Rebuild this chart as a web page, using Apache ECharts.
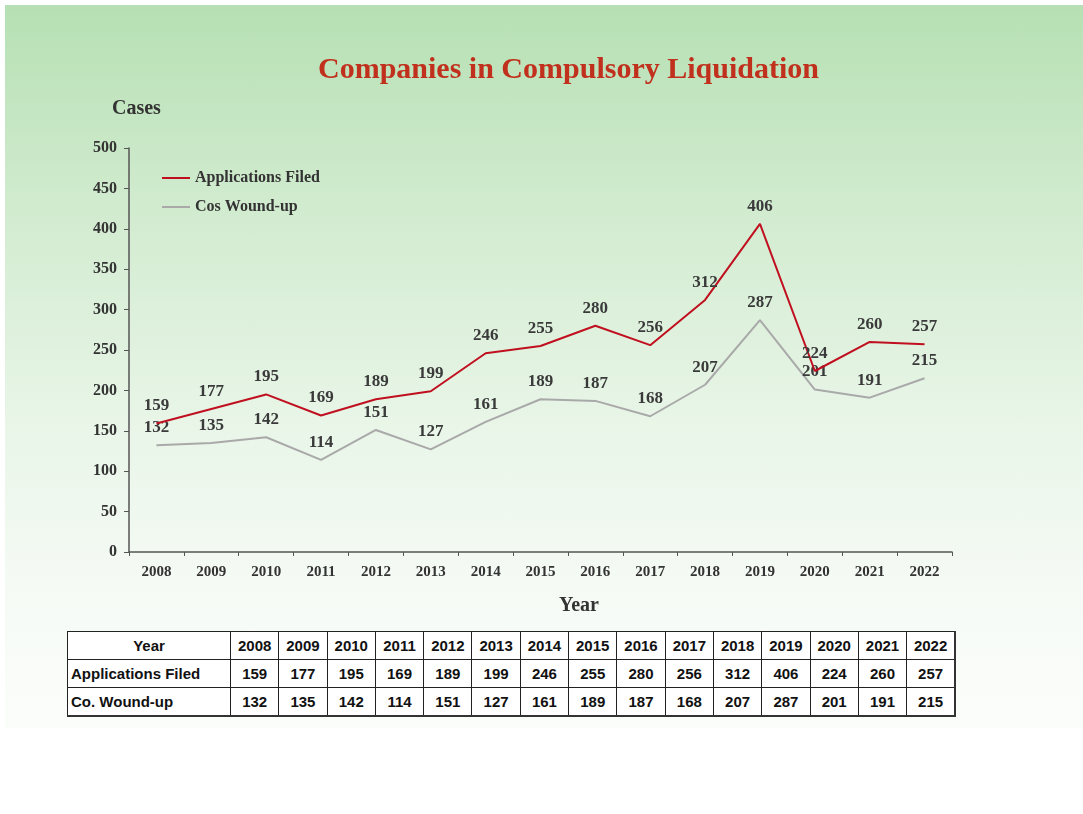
<!DOCTYPE html>
<html>
<head>
<meta charset="utf-8">
<script src="https://cdn.jsdelivr.net/npm/echarts@6/dist/echarts.min.js"></script>
<style>
  html, body { margin: 0; padding: 0; background: #ffffff; width: 1083px; height: 814px; overflow: hidden; }
  #bg { position: absolute; left: 5px; top: 5px; width: 1078px; height: 723px;
        background: linear-gradient(to bottom, #b6e0b3 0%, #d3ecd1 30%, #eaf6e9 60%, #f7fbf7 85%, #fbfdfb 100%); }
  #chart { position: absolute; left: 0; top: 0; width: 1083px; height: 814px; }
  #tbl { position: absolute; left: 67px; top: 631px; width: 889px; table-layout: fixed; border-collapse: collapse;
         font-family: "Liberation Sans", Arial, sans-serif; font-size: 15px; font-weight: bold; color: #111; background: #fff;
         border-right: 2px solid #333; border-bottom: 2px solid #333; }
  #tbl td { border: 1px solid #222; height: 27px; padding: 0; text-align: center; }
  #tbl td.h { width: 162px; text-align: left; padding-left: 3px; }
  #tbl tr:first-child td.h { text-align: center; padding-left: 0; }
</style>
</head>
<body>
<div id="bg"></div>
<div id="chart"></div>
<table id="tbl"></table>
<script>
const years = ['2008','2009','2010','2011','2012','2013','2014','2015','2016','2017','2018','2019','2020','2021','2022'];
const applicationsFiled = [159,177,195,169,189,199,246,255,280,256,312,406,224,260,257];
const cosWoundUp = [132,135,142,114,151,127,161,189,187,168,207,287,201,191,215];
const seriesNames = ['Applications Filed', 'Cos Wound-up'];
const tableRowNames = ['Year', 'Applications Filed', 'Co. Wound-up'];

// table
const tbl = document.getElementById('tbl');
[years, applicationsFiled, cosWoundUp].forEach((row, i) => {
  const tr = document.createElement('tr');
  const th = document.createElement('td');
  th.className = 'h'; th.textContent = tableRowNames[i]; tr.appendChild(th);
  row.forEach(v => { const td = document.createElement('td'); td.textContent = v; tr.appendChild(td); });
  tbl.appendChild(tr);
});

const serif = '"Liberation Serif", "Times New Roman", serif';
const chart = echarts.init(document.getElementById('chart'));
const labelStyle = { show: true, position: 'top', distance: 9, fontFamily: serif, fontWeight: 'bold', fontSize: 17, color: '#3a3a3a' };
chart.setOption({
  backgroundColor: 'transparent',
  animation: false,
  title: {
    text: 'Companies in Compulsory Liquidation',
    left: 313, top: 50,
    textStyle: { fontFamily: serif, fontWeight: 'bold', fontSize: 30, color: '#c0301c' }
  },
  graphic: [
    { type: 'text', left: 112, top: 99, style: { text: 'Cases', font: 'bold 20px "Liberation Serif", serif', fill: '#333' } },
    { type: 'text', left: 559, top: 596, style: { text: 'Year', font: 'bold 20px "Liberation Serif", serif', fill: '#333' } }
  ],
  legend: {
    orient: 'vertical', left: 162, top: 170, padding: 0, itemWidth: 28, itemHeight: 2, itemGap: 13, icon: 'rect',
    textStyle: { fontFamily: serif, fontWeight: 'bold', fontSize: 16, color: '#333' },
    data: seriesNames
  },
  grid: { left: 129, right: 131, top: 148, bottom: 262, containLabel: false },
  xAxis: {
    type: 'category', data: years, boundaryGap: true,
    axisLine: { lineStyle: { color: '#555', width: 1.5 } },
    axisTick: { show: true, length: 4, lineStyle: { color: '#555' } },
    axisLabel: { margin: 13, fontFamily: serif, fontWeight: 'bold', fontSize: 15, color: '#333' }
  },
  yAxis: {
    type: 'value', min: 0, max: 500, interval: 50,
    axisLine: { show: true, lineStyle: { color: '#555', width: 1.5 } },
    axisTick: { show: true, length: 5, lineStyle: { color: '#555' } },
    splitLine: { show: false },
    axisLabel: { margin: 12, fontFamily: serif, fontWeight: 'bold', fontSize: 16, color: '#333' }
  },
  series: [
    { name: seriesNames[0], type: 'line', data: applicationsFiled, symbol: 'circle', symbolSize: 0.01, showSymbol: true,
      lineStyle: { color: '#c01020', width: 2 }, itemStyle: { color: '#c01020' }, label: labelStyle, z: 3 },
    { name: seriesNames[1], type: 'line', data: cosWoundUp, symbol: 'circle', symbolSize: 0.01, showSymbol: true,
      lineStyle: { color: '#a9a9a9', width: 2 }, itemStyle: { color: '#a9a9a9' }, label: labelStyle, z: 2 }
  ]
});
</script>
</body>
</html>
